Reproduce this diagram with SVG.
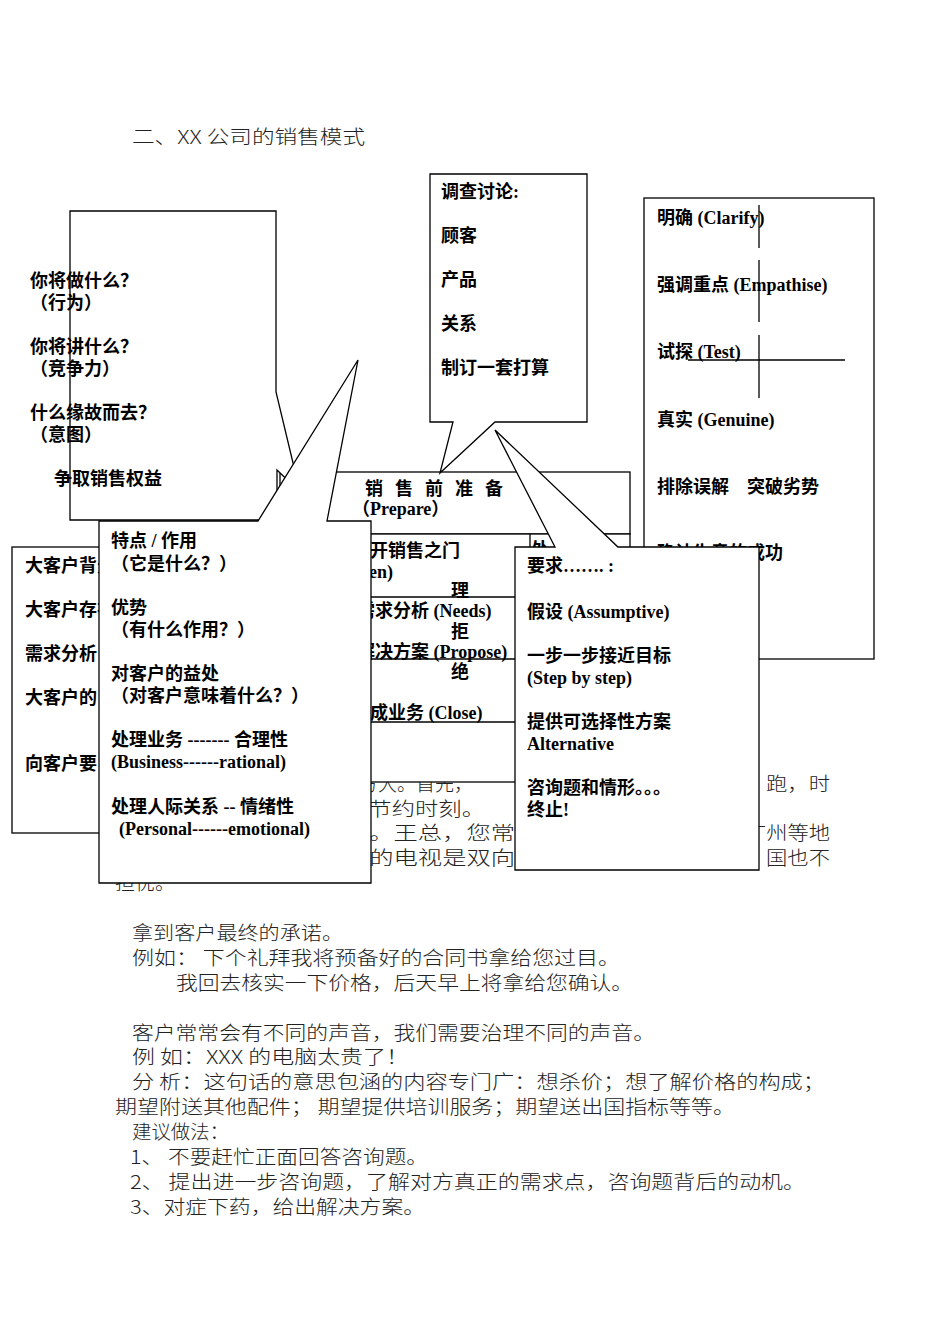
<svg xmlns="http://www.w3.org/2000/svg" width="950" height="1344" viewBox="0 0 950 1344">
<style>
.b{font-family:"Liberation Serif","Noto Sans CJK SC",serif;font-weight:bold;font-size:18px;fill:#000}
.t{font-family:"Noto Sans CJK SC",sans-serif;font-weight:300;font-size:19px;fill:#222}
.box{fill:#fff;stroke:#000;stroke-width:1.3}
.ln{fill:none;stroke:#000;stroke-width:1.3}
</style>
<rect width="950" height="1344" fill="#fff"/>
<text class="t" x="132" y="144" textLength="233" lengthAdjust="spacingAndGlyphs">二、XX 公司的销售模式</text>
<g id="bgtext">
<text class="t" x="340" y="791">为方大。首先，</text>
<text class="t" x="766" y="791" textLength="64" lengthAdjust="spacingAndGlyphs">跑，时</text>
<text class="t" x="345" y="816" textLength="140" lengthAdjust="spacingAndGlyphs">您节约时刻。</text>
<text class="t" x="345" y="840" textLength="170" lengthAdjust="spacingAndGlyphs">头。王总，您常</text>
<text class="t" x="745" y="840" textLength="85" lengthAdjust="spacingAndGlyphs">广州等地</text>
<text class="t" x="345" y="865" textLength="170" lengthAdjust="spacingAndGlyphs">们的电视是双向</text>
<text class="t" x="766" y="865" textLength="64" lengthAdjust="spacingAndGlyphs">国也不</text>
<text class="t" x="115" y="890" textLength="60" lengthAdjust="spacingAndGlyphs">担忧。</text>
<text class="t" x="132" y="940" textLength="211" lengthAdjust="spacingAndGlyphs">拿到客户最终的承诺。</text>
<text class="t" x="132" y="965" textLength="488" lengthAdjust="spacingAndGlyphs">例如：  下个礼拜我将预备好的合同书拿给您过目。</text>
<text class="t" x="176" y="990" textLength="457" lengthAdjust="spacingAndGlyphs">我回去核实一下价格，后天早上将拿给您确认。</text>
<text class="t" x="132" y="1040" textLength="523" lengthAdjust="spacingAndGlyphs">客户常常会有不同的声音，我们需要治理不同的声音。</text>
<text class="t" x="132" y="1064" textLength="277" lengthAdjust="spacingAndGlyphs">例  如：XXX 的电脑太贵了！</text>
<text class="t" x="132" y="1089" textLength="693" lengthAdjust="spacingAndGlyphs">分  析：这句话的意思包涵的内容专门广：想杀价；想了解价格的构成；</text>
<text class="t" x="115" y="1114" textLength="620" lengthAdjust="spacingAndGlyphs">期望附送其他配件； 期望提供培训服务；期望送出国指标等等。</text>
<text class="t" x="132" y="1139" textLength="97" lengthAdjust="spacingAndGlyphs">建议做法：</text>
<text class="t" x="130" y="1164" textLength="298" lengthAdjust="spacingAndGlyphs">1、 不要赶忙正面回答咨询题。</text>
<text class="t" x="130" y="1189" textLength="675" lengthAdjust="spacingAndGlyphs">2、 提出进一步咨询题，了解对方真正的需求点，咨询题背后的动机。</text>
<text class="t" x="130" y="1214" textLength="295" lengthAdjust="spacingAndGlyphs">3、对症下药，给出解决方案。</text>
</g>
<g id="leftbox">
<rect class="box" x="12" y="547" width="100" height="286"/>
<text class="b" x="25" y="572">大客户背景</text>
<text class="b" x="25" y="616">大客户存在</text>
<text class="b" x="25" y="660">需求分析</text>
<text class="b" x="25" y="704">大客户的</text>
<text class="b" x="25" y="770">向客户要</text>
</g>
<g id="prepare">
<rect class="box" x="280" y="472" width="350" height="62"/>
<text class="b" x="365" y="495" letter-spacing="12">销售前准备</text>
<text class="b" x="352" y="515">（Prepare）</text>
</g>
<g id="steps">
<rect class="box" x="280" y="534" width="350" height="248"/>
<line class="ln" x1="280" y1="597" x2="630" y2="597"/>
<line class="ln" x1="280" y1="659" x2="630" y2="659"/>
<line class="ln" x1="280" y1="722" x2="630" y2="722"/>
<line class="ln" x1="530" y1="534" x2="530" y2="548"/>
<text class="b" x="531" y="556">处</text>
<text class="b" x="352" y="557">打开销售之门</text>
<text class="b" x="339" y="578">(Open)</text>
<text class="b" x="451" y="597">理</text>
<text class="b" x="357" y="617">需求分析 (Needs)</text>
<text class="b" x="451" y="638">拒</text>
<text class="b" x="357" y="658">解决方案 (Propose)</text>
<text class="b" x="451" y="678">绝</text>
<text class="b" x="352" y="719">完成业务 (Close)</text>
</g>
<g id="rightbox">
<rect class="box" x="644" y="198" width="230" height="461"/>
<text class="b" x="657" y="224">明确 (Clarify)</text>
<text class="b" x="657" y="291">强调重点 (Empathise)</text>
<text class="b" x="657" y="358">试探 (Test)</text>
<text class="b" x="657" y="426">真实 (Genuine)</text>
<text class="b" x="657" y="493">排除误解　突破劣势</text>
<text class="b" x="657" y="559">确认生意的成功</text>
<line class="ln" x1="759" y1="205" x2="759" y2="248"/>
<line class="ln" x1="759" y1="260" x2="759" y2="322"/>
<line class="ln" x1="759" y1="335" x2="759" y2="398"/>
<line class="ln" x1="688" y1="360" x2="845" y2="360"/>
</g>
<g id="callout1">
<path class="box" d="M70,211 H276 V392 L300,492 L277,470 V520 H70 Z"/>
<text class="b" x="30" y="287">你将做什么？</text>
<text class="b" x="30" y="309">（行为）</text>
<text class="b" x="30" y="353">你将讲什么？</text>
<text class="b" x="30" y="375">（竞争力）</text>
<text class="b" x="30" y="419">什么缘故而去？</text>
<text class="b" x="30" y="441">（意图）</text>
<text class="b" x="54" y="485">争取销售权益</text>
</g>
<g id="callout-survey">
<path class="box" d="M430,174 H587 V422 H495 L440,473 L453,422 H430 Z"/>
<text class="b" x="441" y="198">调查讨论:</text>
<text class="b" x="441" y="242">顾客</text>
<text class="b" x="441" y="286">产品</text>
<text class="b" x="441" y="330">关系</text>
<text class="b" x="441" y="374">制订一套打算</text>
</g>
<g id="callout-ask">
<path class="box" d="M515,547 H555 L495,430 L618,547 H759 V870 H515 Z"/>
<text class="b" x="527" y="572">要求……. :</text>
<text class="b" x="527" y="618">假设 (Assumptive)</text>
<text class="b" x="527" y="662">一步一步接近目标</text>
<text class="b" x="527" y="684">(Step by step)</text>
<text class="b" x="527" y="728">提供可选择性方案</text>
<text class="b" x="527" y="750">Alternative</text>
<text class="b" x="527" y="794">咨询题和情形。。。</text>
<text class="b" x="527" y="816">终止!</text>
</g>
<g id="callout2">
<path class="box" d="M99,521 H258 L358,360 L327,521 H371 V883 H99 Z"/>
<text class="b" x="111" y="547">特点 / 作用</text>
<text class="b" x="111" y="570">（它是什么？）</text>
<text class="b" x="111" y="614">优势</text>
<text class="b" x="111" y="636">（有什么作用？）</text>
<text class="b" x="111" y="680">对客户的益处</text>
<text class="b" x="111" y="702">（对客户意味着什么？）</text>
<text class="b" x="111" y="746">处理业务 ------- 合理性</text>
<text class="b" x="111" y="768">(Business------rational)</text>
<text class="b" x="111" y="813">处理人际关系 -- 情绪性</text>
<text class="b" x="119" y="835">(Personal------emotional)</text>
</g>
<g id="connectors"></g>
</svg>
